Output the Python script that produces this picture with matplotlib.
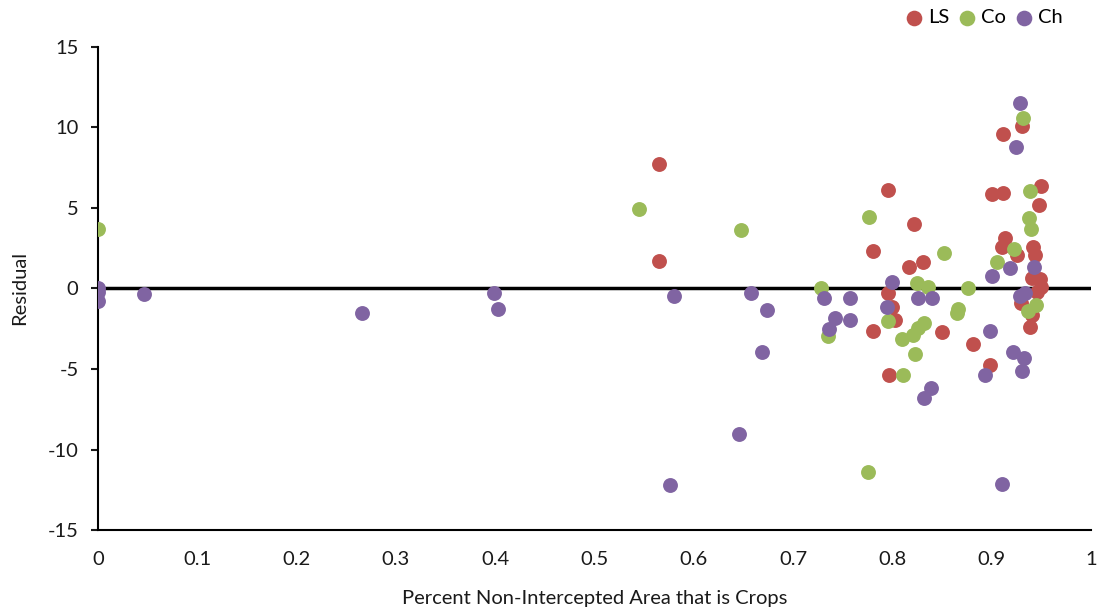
import matplotlib.pyplot as plt

plt.rcParams["font.family"] = ["Lato", "DejaVu Sans"]
plt.rcParams["axes.unicode_minus"] = False

# LS series
ls_x = [0.565, 0.565, 0.780, 0.780, 0.795, 0.795, 0.797, 0.803, 0.817, 0.822,
        0.831, 0.850, 0.881, 0.898, 0.900, 0.910, 0.911, 0.911, 0.913, 0.925,
        0.929, 0.930, 0.938, 0.941, 0.941, 0.942, 0.944, 0.946, 0.948, 0.949,
        0.950, 0.950, 0.800]
ls_y = [7.7, 1.7, 2.3, -2.65, 6.1, -0.3, -5.4, -1.95, 1.35, 4.0,
        1.65, -2.7, -3.45, -4.75, 5.85, 2.55, 9.6, 5.9, 3.15, 2.1,
        -0.9, 10.1, -2.4, 0.65, -1.65, 2.6, 2.1, -0.2, 5.2, 0.6,
        6.35, 0.1, -1.15]

# Co series
co_x = [0.0, 0.545, 0.647, 0.728, 0.735, 0.775, 0.776, 0.796, 0.810, 0.811,
        0.821, 0.823, 0.825, 0.826, 0.832, 0.836, 0.852, 0.865, 0.866, 0.876,
        0.905, 0.922, 0.931, 0.936, 0.937, 0.938, 0.939, 0.945]
co_y = [3.7, 4.9, 3.6, 0.0, -2.95, -11.4, 4.45, -2.05, -3.15, -5.4,
        -2.9, -4.1, 0.35, -2.45, -2.15, 0.1, 2.2, -1.5, -1.25, 0.05,
        1.65, 2.45, 10.6, -1.4, 4.35, 6.05, 3.7, -1.0]

# Ch series
ch_x = [0.0, 0.0, 0.0, 0.046, 0.266, 0.399, 0.403, 0.576, 0.580, 0.645,
        0.658, 0.669, 0.674, 0.731, 0.736, 0.742, 0.757, 0.757, 0.794, 0.800,
        0.826, 0.832, 0.839, 0.840, 0.893, 0.898, 0.900, 0.910, 0.918, 0.921,
        0.924, 0.928, 0.928, 0.930, 0.932, 0.933, 0.943]
ch_y = [0.0, -0.25, -0.8, -0.35, -1.55, -0.3, -1.3, -12.2, -0.5, -9.05,
        -0.3, -3.95, -1.35, -0.6, -2.5, -1.85, -0.6, -1.95, -1.15, 0.4,
        -0.6, -6.8, -6.2, -0.6, -5.35, -2.65, 0.8, -12.15, 1.25, -3.95,
        8.75, 11.5, -0.45, -5.1, -4.3, -0.3, 1.3]

colors = {"LS": "#C0504D", "Co": "#9BBB59", "Ch": "#8064A2"}

fig = plt.figure(figsize=(11.01, 6.15), dpi=100)
ax = fig.add_axes([0.089, 0.138, 0.902, 0.786])

ax.axhline(0, color="black", lw=2.5, zorder=1)
ax.scatter(ls_x, ls_y, s=115, color=colors["LS"], label="LS", zorder=3, linewidths=0)
ax.scatter(co_x, co_y, s=115, color=colors["Co"], label="Co", zorder=4, linewidths=0)
ax.scatter(ch_x, ch_y, s=115, color=colors["Ch"], label="Ch", zorder=5, linewidths=0)

ax.set_xlim(0, 1)
ax.set_ylim(-15, 15)
ax.set_xticks([i / 10 for i in range(11)])
ax.set_xticklabels(["0", "0.1", "0.2", "0.3", "0.4", "0.5", "0.6", "0.7", "0.8", "0.9", "1"])
ax.set_yticks(range(-15, 16, 5))

for side in ["top", "right"]:
    ax.spines[side].set_visible(False)
for side in ["left", "bottom"]:
    ax.spines[side].set_linewidth(1.5)

ax.tick_params(axis="y", direction="out", length=5, width=1.5, labelsize=14.5, pad=9, colors="#1a1a1a")
ax.tick_params(axis="x", length=0, labelsize=14.5, pad=15, colors="#1a1a1a")

ax.set_xlabel("Percent Non-Intercepted Area that is Crops", fontsize=14.5, color="#1a1a1a", labelpad=16)
ax.set_ylabel("Residual", fontsize=14.5, color="#1a1a1a", labelpad=14)

ax.legend(loc="upper right", bbox_to_anchor=(0.98, 1.095), ncol=3, frameon=False,
          fontsize=14.5, handlelength=0.9, handletextpad=0.25, columnspacing=0.45,
          markerscale=1.05, borderaxespad=0)

fig.savefig("out.png", dpi=100)
